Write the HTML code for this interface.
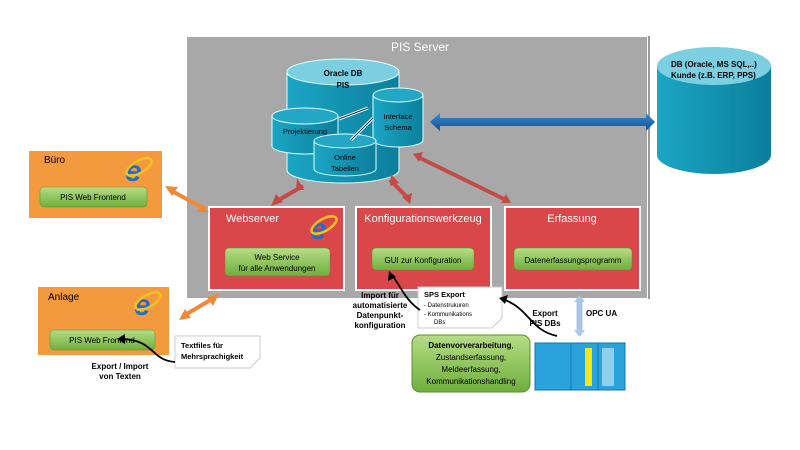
<!DOCTYPE html>
<html><head><meta charset="utf-8"><style>
html,body{margin:0;padding:0;background:#fff;width:800px;height:450px;overflow:hidden}
svg text{font-family:"Liberation Sans",sans-serif}
</style></head><body>
<svg width="800" height="450" viewBox="0 0 800 450" xmlns="http://www.w3.org/2000/svg">
<defs>
<linearGradient id="cyl" x1="0" x2="1"><stop offset="0" stop-color="#1ba6c4"/><stop offset="1" stop-color="#0b7f9c"/></linearGradient>
<linearGradient id="grn" x1="0" y1="0" x2="0" y2="1"><stop offset="0" stop-color="#b6dc86"/><stop offset="1" stop-color="#6faf3c"/></linearGradient>
<linearGradient id="blu" x1="0" y1="0" x2="0" y2="1"><stop offset="0" stop-color="#3a8ad0"/><stop offset="1" stop-color="#0d4f96"/></linearGradient>
</defs>
<!-- server -->
<rect x="186" y="36" width="462" height="263" fill="#a8a8a8" stroke="#fff" stroke-width="2"/>
<line x1="649" y1="36" x2="649" y2="299" stroke="#999" stroke-width="2"/>
<text x="420" y="51" fill="#fff" font-size="12" text-anchor="middle">PIS Server</text>
<!-- big cylinder -->
<path d="M287 72 V170 A56 13 0 0 0 399 170 V72" fill="url(#cyl)" stroke="#dff" stroke-width="1"/>
<ellipse cx="343" cy="72" rx="56" ry="13" fill="#7ccfe0" stroke="#dff"/>
<text x="343" y="76" font-size="8" font-weight="bold" text-anchor="middle">Oracle DB</text>
<text x="343" y="88" font-size="8" font-weight="bold" text-anchor="middle">PIS</text>
<path d="M272 116 V146 A33 8 0 0 0 338 146 V116" fill="url(#cyl)" stroke="#dff"/>
<ellipse cx="305" cy="116" rx="33" ry="8" fill="#23a7c4" stroke="#dff"/>
<text x="305" y="134" font-size="7.5" text-anchor="middle">Projektierung</text>
<path d="M373 95 V140 A25 7 0 0 0 423 140 V95" fill="url(#cyl)" stroke="#dff"/>
<ellipse cx="398" cy="95" rx="25" ry="7" fill="#23a7c4" stroke="#dff"/>
<text x="398" y="119" font-size="7.5" text-anchor="middle">Interface</text>
<text x="398" y="130" font-size="7.5" text-anchor="middle">Schema</text>
<path d="M314 141 V169 A31 7 0 0 0 376 169 V141" fill="url(#cyl)" stroke="#dff"/>
<ellipse cx="345" cy="141" rx="31" ry="7" fill="#23a7c4" stroke="#dff"/>
<text x="345" y="160" font-size="7.5" text-anchor="middle">Online</text>
<text x="345" y="171" font-size="7.5" text-anchor="middle">Tabellen</text>
<line x1="339" y1="119" x2="368" y2="108" stroke="#fff" stroke-width="3"/><line x1="339" y1="119" x2="368" y2="108" stroke="#134" stroke-width="1"/>
<line x1="351" y1="140" x2="373" y2="118" stroke="#fff" stroke-width="3"/><line x1="351" y1="140" x2="373" y2="118" stroke="#134" stroke-width="1"/>
<polygon points="430,122 440,113 440,118 646,118 646,113 655,122 646,131 646,126 440,126 440,131" fill="url(#blu)"/>
<!-- right db -->
<path d="M657 66 V155 A57 19 0 0 0 771 155 V66" fill="url(#cyl)"/>
<ellipse cx="714" cy="66" rx="57" ry="19" fill="#7ccfe0"/>
<text x="671" y="67" font-size="8" font-weight="bold">DB (Oracle, MS SQL,..)</text>
<text x="671" y="78" font-size="8" font-weight="bold">Kunde (z.B. ERP, PPS)</text>
<!-- red arrows -->
<g stroke="#c24b48" stroke-width="4" fill="#c24b48">
<line x1="303" y1="186" x2="277" y2="201"/><line x1="390" y1="180" x2="410" y2="200"/><line x1="418" y1="157" x2="506" y2="200"/>
</g>
<polygon points="271,206 276,194 283,202" fill="#c24b48"/><polygon points="297,178 304,190 296,190" fill="#c24b48"/>
<polygon points="391,174 390,186 399,183" fill="#c24b48"/><polygon points="410,204 402,197 412,193" fill="#c24b48"/>
<polygon points="413,154 423,152 419,162" fill="#c24b48"/><polygon points="511,203 501,203 506,194" fill="#c24b48"/>
<!-- red boxes -->
<g stroke="#fff" stroke-width="2" fill="#d9474a">
<rect x="209" y="207" width="135" height="83"/><rect x="356" y="207" width="135" height="83"/><rect x="505" y="207" width="135" height="83"/>
</g>
<text x="226" y="222" fill="#fff" font-size="11">Webserver</text>
<text x="423" y="222" fill="#fff" font-size="11" text-anchor="middle">Konfigurationswerkzeug</text>
<text x="572" y="222" fill="#fff" font-size="11" text-anchor="middle">Erfassung</text>
<!-- orange boxes -->
<rect x="28" y="150" width="135" height="69" fill="#f39a3e" stroke="#fff" stroke-width="2"/>
<rect x="37" y="286" width="133" height="70" fill="#f39a3e" stroke="#fff" stroke-width="2"/>
<g fill="url(#grn)" stroke="#5c8f2f" stroke-width="0.5">
<rect x="225" y="248" width="105" height="28" rx="4"/><rect x="372" y="248" width="102" height="22" rx="4"/><rect x="514" y="248" width="118" height="22" rx="4"/>
<rect x="40" y="187" width="107" height="20" rx="4"/><rect x="50" y="330" width="105" height="20" rx="4"/>
</g>
<text x="277" y="260" font-size="8" text-anchor="middle">Web Service</text>
<text x="277" y="271" font-size="8" text-anchor="middle">für alle Anwendungen</text>
<text x="423" y="263" font-size="8" text-anchor="middle">GUI zur Konfiguration</text>
<text x="573" y="263" font-size="8" text-anchor="middle">Datenerfassungsprogramm</text>
<text x="44" y="163" font-size="10">Büro</text>
<text x="48" y="300" font-size="10">Anlage</text>
<text x="93" y="200" font-size="8" text-anchor="middle">PIS Web Frontend</text>
<text x="102" y="343" font-size="8" text-anchor="middle">PIS Web Frontend</text>
<!-- IE icons -->
<g font-family="Liberation Serif" font-style="italic" font-weight="bold" fill="#1d6fc9">
<text x="125" y="181" font-size="30">e</text><text x="134" y="315" font-size="30">e</text><text x="310" y="239" font-size="30">e</text>
</g>
<g fill="none" stroke="#f5c020" stroke-width="2.5">
<ellipse cx="139" cy="167" rx="14" ry="6" transform="rotate(-30 139 167)"/>
<ellipse cx="148" cy="301" rx="14" ry="6" transform="rotate(-30 148 301)"/>
<ellipse cx="324" cy="225" rx="14" ry="6" transform="rotate(-30 324 225)"/>
</g>
<!-- orange arrows -->
<g stroke="#ee8a37" stroke-width="4"><line x1="172" y1="191" x2="203" y2="208"/><line x1="185" y1="315" x2="212" y2="299"/></g>
<polygon points="165,186 178,187 172,196" fill="#ee8a37"/><polygon points="209,212 196,212 202,203" fill="#ee8a37"/>
<polygon points="179,320 185,309 191,318" fill="#ee8a37"/><polygon points="219,294 213,306 207,297" fill="#ee8a37"/>
<!-- notes -->
<path d="M175 336 H260 V358 L250 368 H175 Z" fill="#fff" stroke="#ccc"/>
<text x="181" y="348" font-size="7.5" font-weight="bold">Textfiles für</text>
<text x="181" y="359" font-size="7.5" font-weight="bold">Mehrsprachigkeit</text>
<path d="M418 287 H502 V318 L492 328 H418 Z" fill="#fff" stroke="#ccc"/>
<text x="424" y="297" font-size="7.5" font-weight="bold">SPS Export</text>
<text x="424" y="307" font-size="6">-  Datenstrukuren</text>
<text x="424" y="316" font-size="6">-  Kommunikations</text>
<text x="434" y="324" font-size="6">DBs</text>
<g font-size="8" font-weight="bold" text-anchor="middle">
<text x="120" y="369">Export / Import</text><text x="120" y="379">von Texten</text>
<text x="380" y="298">Import für</text><text x="380" y="308">automatisierte</text><text x="380" y="318">Datenpunkt-</text><text x="380" y="328">konfiguration</text>
<text x="545" y="316">Export</text><text x="545" y="326">PIS DBs</text>
</g>
<text x="586" y="316" font-size="8" font-weight="bold">OPC UA</text>
<g fill="none" stroke="#000" stroke-width="1.8">
<path d="M175 362 C150 360 155 340 122 339"/>
<path d="M420 310 C405 300 400 285 392 275"/>
<path d="M557 336 C530 330 530 310 505 300"/>
</g>
<polygon points="117,339 125,334 125,344" fill="#000"/>
<polygon points="389,271 388,281 396,277" fill="#000"/>
<polygon points="499,298 508,295 505,304" fill="#000"/>
<rect x="577" y="300" width="5" height="32" fill="#a9c8ea" stroke="#7fa6d2" stroke-width="0.5"/>
<polygon points="574,302 579.5,295 585,302" fill="#a9c8ea"/><polygon points="574,330 579.5,337 585,330" fill="#a9c8ea"/>
<rect x="412" y="335" width="118" height="57" rx="8" fill="url(#grn)" stroke="#5c8f2f"/>
<g font-size="8" text-anchor="middle"><text x="471" y="348"><tspan font-weight="bold">Datenvorverarbeitung</tspan>,</text><text x="471" y="360">Zustandserfassung,</text><text x="471" y="372">Meldeerfassung,</text><text x="471" y="384">Kommunikationshandling</text></g>
<rect x="535" y="343" width="90" height="47" fill="#2aa3dd" stroke="#1470b0"/>
<line x1="571" y1="343" x2="571" y2="390" stroke="#1470b0"/><line x1="598" y1="343" x2="598" y2="390" stroke="#1470b0"/>
<rect x="585" y="348" width="7" height="38" fill="#f6e616"/>
<rect x="602" y="348" width="12" height="38" fill="#8fd0ef"/>
</svg>
</body></html>
